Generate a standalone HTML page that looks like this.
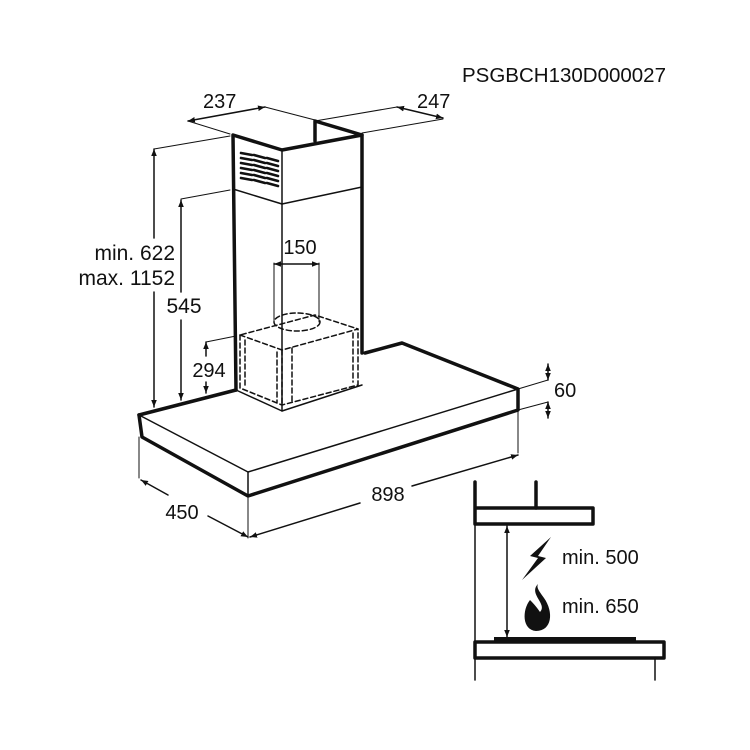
<!DOCTYPE html>
<html><head><meta charset="utf-8"><style>
html,body{margin:0;padding:0;background:#fff}
svg{display:block}
text{font-family:"Liberation Sans",Arial,sans-serif;fill:#111}
</style></head><body>
<svg width="750" height="750" viewBox="0 0 750 750" xmlns="http://www.w3.org/2000/svg">
<defs>
<marker id="a" viewBox="0 0 10 10" refX="10" refY="5" markerWidth="7" markerHeight="7" orient="auto-start-reverse" markerUnits="userSpaceOnUse"><path d="M0,1 L10,5 L0,9 Z" fill="#111"/></marker>
</defs>
<g fill="none" stroke="#111" stroke-linecap="round" stroke-linejoin="round">
<g stroke-width="3.5">
<path d="M236,390 L233,135 L282,150 L362,135 L362,353"/>
<path d="M315,141 L315,121 L362,135"/>
<path d="M139,415 L236,390"/>
<path d="M365,353 L402,343 L518,389 L518,410 L248,496 L142,437 L139,415"/>
</g>
<g stroke-width="1.5">
<path d="M282,150 L282,410"/>
<path d="M233,189 L282,204 L362,187"/>
<path d="M236,390 L282,411"/>
<path d="M282,411 L362,385"/>
<path d="M139,415 L248,472 L518,389"/>
<path d="M248,472 L248,496"/>
</g>
<g stroke-width="2.6">
<path d="M241,153 L252,155 M241,158 L252,160 M241,163 L252,165 M241,168 L252,170 M241,173 L252,175 M241,178 L252,180"/>
<path d="M254,155 L265,158 M254,160 L265,163 M254,165 L265,168 M254,170 L265,173 M254,175 L265,178 M254,180 L265,183"/>
<path d="M267,158 L278,161 M267,163 L278,166 M267,168 L278,171 M267,173 L278,176 M267,178 L278,181 M267,183 L278,186"/>
</g>
<g stroke-width="1">
<path d="M274,263 L274,322 M319,263 L319,322"/>
</g>
<g stroke-width="1.5" stroke-dasharray="5,3">
<ellipse cx="297" cy="322" rx="23" ry="9"/>
<path d="M240,335 L282,350 L358,329 L315,315 L240,335"/>
<path d="M240,335 L240,388 L282,405 L358,385 L358,329"/>
<path d="M282,350 L282,405"/>
<path d="M277,352 L277,402 M292,348 L292,402"/>
<path d="M245,340 L245,386 M353,333 L353,382"/>
</g>
<g stroke-width="1">
<path d="M188,121 L230,134 M265,107 L315,120 M315,121 L397,107 M362,133 L443,119"/>
<path d="M154,149 L230,136 M181,199 L230,190 M206,342 L236,336"/>
<path d="M139,437 L139,478 M248,496 L248,538 M518,410 L518,453"/>
<path d="M518,389 L548,380 M518,410 L548,402"/>
</g>
<g stroke-width="1.5">
<path d="M188,121 L265,107" marker-start="url(#a)" marker-end="url(#a)"/>
<path d="M397,107 L443,118" marker-start="url(#a)" marker-end="url(#a)"/>
<path d="M154,149 L154,238" marker-start="url(#a)"/>
<path d="M154,292 L154,407" marker-end="url(#a)"/>
<path d="M181,200 L181,292" marker-start="url(#a)"/>
<path d="M181,320 L181,400" marker-end="url(#a)"/>
<path d="M206,342 L206,356" marker-start="url(#a)"/>
<path d="M206,382 L206,393" marker-end="url(#a)"/>
<path d="M274,264 L319,264" marker-start="url(#a)" marker-end="url(#a)"/>
<path d="M548,364 L548,380" marker-start="url(#a)" marker-end="url(#a)"/>
<path d="M548,402 L548,418" marker-start="url(#a)" marker-end="url(#a)"/>
<path d="M141,480 L168,495" marker-start="url(#a)"/>
<path d="M208,516 L248,537" marker-end="url(#a)"/>
<path d="M250,537 L360,503" marker-start="url(#a)"/>
<path d="M412,486 L518,455" marker-end="url(#a)"/>
</g>
<g stroke-width="3.5">
<path d="M475,482 L475,524 L593,524 L593,508 L475,508"/>
<path d="M536,482 L536,508"/>
<path d="M475,642 L664,642 L664,658 L475,658 Z"/>
</g>
<rect x="494" y="637" width="142" height="5" fill="#111" stroke="none"/>
<g stroke-width="1.5">
<path d="M475,524 L475,680 M655,658 L655,680"/>
<path d="M507,526 L507,637" marker-start="url(#a)" marker-end="url(#a)"/>
</g>
</g>
<path d="M551,537 L530,556 L538,558 L522,580 L546,558 L538,556 Z" fill="#111"/>
<path d="M538,584 C528,594 548,604 540,612 C536,606 532,602 530,600 C522,610 522,630 536,631 C552,631 554,612 544,598 C540,592 536,588 538,584 Z" fill="#111"/>
<g font-size="20">
<text x="462" y="82" font-size="20.5">PSGBCH130D000027</text>
<text x="203" y="108">237</text>
<text x="417" y="108">247</text>
<text x="175" y="260" text-anchor="end" font-size="21">min. 622</text>
<text x="175" y="285" text-anchor="end" font-size="21">max. 1152</text>
<text x="184" y="313" text-anchor="middle" font-size="21">545</text>
<text x="209" y="377" text-anchor="middle">294</text>
<text x="300" y="254" text-anchor="middle">150</text>
<text x="554" y="397">60</text>
<text x="182" y="519" text-anchor="middle">450</text>
<text x="388" y="501" text-anchor="middle">898</text>
<text x="562" y="564">min. 500</text>
<text x="562" y="613">min. 650</text>
</g>
</svg>
</body></html>
